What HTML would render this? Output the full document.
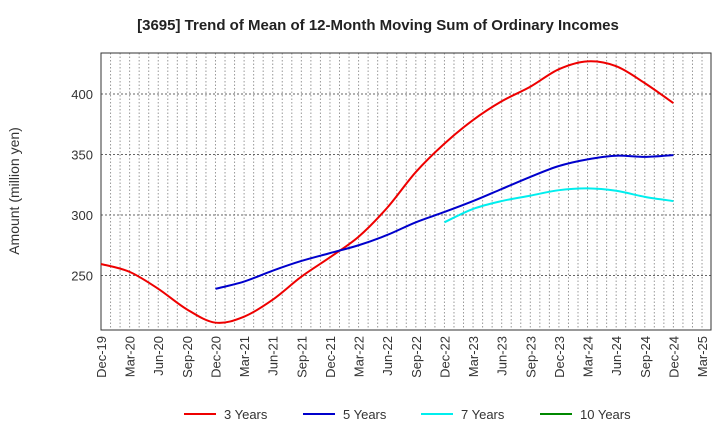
<!DOCTYPE html>
<html><head><meta charset="utf-8"><style>
body{margin:0;background:#fff;font-family:"Liberation Sans",sans-serif;}
svg{display:block}
</style></head><body>
<svg id="c" width="720" height="440" xmlns="http://www.w3.org/2000/svg">
<text x="378" y="30" text-anchor="middle" font-size="15" font-weight="bold" fill="#222">[3695]  Trend of Mean of 12-Month Moving Sum of Ordinary Incomes</text>
<text transform="translate(19,191) rotate(-90)" text-anchor="middle" font-size="14" fill="#333">Amount (million yen)</text>
<g id="grid"></g><g id="axes"></g><g id="series"></g><g id="legend"></g>
</svg>
<script>
const categories=["Dec-19","Mar-20","Jun-20","Sep-20","Dec-20","Mar-21","Jun-21","Sep-21","Dec-21","Mar-22","Jun-22","Sep-22","Dec-22","Mar-23","Jun-23","Sep-23","Dec-23","Mar-24","Jun-24","Sep-24","Dec-24","Mar-25"];
const yTicks=[250,300,350,400];
const s3=[259.5,253,239,222,211,216,230,249,265,282,306,335.5,359,378.5,394,406,420.5,427,423,409,392.5];
const s3Start=0;
const s5=[239,245,254,262,268.5,275,283.5,294,302.5,311.5,321.5,331.5,340.5,346,349,348,349.5];
const s5Start=4;
const s7=[294,305,311.5,316,320.5,322,320,315,311.5];
const s7Start=12;
const s10=[];
const NS="http://www.w3.org/2000/svg";
const L=101,R=711,T=53,B=330;
function x(i){return 101+28.62*i;}
function y(v){return 94+(400-v)*60.5/50;}
function mk(tag,attrs,parent){const e=document.createElementNS(NS,tag);for(const k in attrs)e.setAttribute(k,attrs[k]);parent.appendChild(e);return e;}
const grid=document.getElementById('grid'),axes=document.getElementById('axes'),ser=document.getElementById('series'),leg=document.getElementById('legend');
for(let m=0;m<=63;m++){const xx=x(m/3);if(xx>R)break;
const g=mk('line',{x1:xx,x2:xx,y1:T,y2:B,stroke:'#999','stroke-dasharray':'1.5,2','stroke-width':1},grid);

}
yTicks.forEach(v=>{const g=mk('line',{x1:L,x2:R,y1:y(v),y2:y(v),stroke:'#666','stroke-dasharray':'2,2','stroke-width':1},grid);


const t=mk('text',{x:L-8,y:y(v)+5,'text-anchor':'end','font-size':13,fill:'#333'},axes);t.textContent=v;

});
const fr=mk('rect',{x:L,y:T,width:R-L,height:B-T,fill:'none',stroke:'#333','stroke-width':1},axes);


categories.forEach((c,i)=>{const t=mk('text',{transform:`translate(${x(i)+5},${B+6}) rotate(-90)`,'text-anchor':'end','font-size':13,fill:'#333'},axes);t.textContent=c;

});
function path(vals,start){const p=vals.map((v,i)=>[x(start+i),y(v)]);if(!p.length)return'';let d=`M${p[0][0]},${p[0][1]}`;
for(let i=0;i<p.length-1;i++){const p0=p[i-1]||p[i],p1=p[i],p2=p[i+1],p3=p[i+2]||p2;
d+=` C${p1[0]+(p2[0]-p0[0])/6},${p1[1]+(p2[1]-p0[1])/6} ${p2[0]-(p3[0]-p1[0])/6},${p2[1]-(p3[1]-p1[1])/6} ${p2[0]},${p2[1]}`;}return d;}
const defs=[[s3,s3Start,'#e00','3 Years','series-3-years'],[s5,s5Start,'#00c','5 Years','series-5-years'],[s7,s7Start,'#0ee','7 Years','series-7-years'],[s10,0,'#080','10 Years','series-10-years']];
defs.forEach(([vals,st,col,name,dn],k)=>{if(vals.length){const p=mk('path',{d:path(vals,st),fill:'none',stroke:col,'stroke-width':2},ser);

}
const lx=[184,303,421,540][k];
const g=mk('g',{},leg);


mk('line',{x1:lx,x2:lx+32,y1:414,y2:414,stroke:col,'stroke-width':2},g);
const t=mk('text',{x:lx+40,y:419,'font-size':13,fill:'#333'},g);t.textContent=name;});
</script>
</body></html>
